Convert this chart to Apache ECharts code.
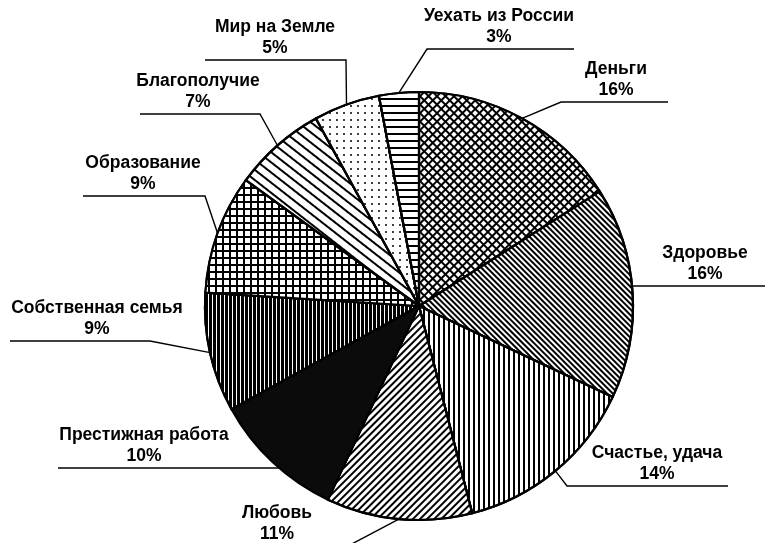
<!DOCTYPE html>
<html>
<head>
<meta charset="utf-8">
<style>
html,body{margin:0;padding:0;background:#fff;}
#chart{width:765px;height:543px;}
</style>
<script src="https://cdn.jsdelivr.net/npm/echarts@6/dist/echarts.min.js"></script>
</head>
<body>
<div id="chart"></div>
<script>
// ---- data ----
const categories = ['Деньги', 'Здоровье', 'Счастье, удача', 'Любовь', 'Престижная работа',
  'Собственная семья', 'Образование', 'Благополучие', 'Мир на Земле', 'Уехать из России'];
const values = [16, 16, 14, 11, 10, 9, 9, 7, 5, 3];

// ---- layout (label placement, not data) ----
const CX = 419, CY = 306, R = 214;
const labelPos = [
  { x: 616, lineY: 102, bend: [561, 102], end: 668 },
  { x: 705, lineY: 286, bend: null, end: 765 },
  { x: 657, lineY: 486, bend: [567, 486], end: 728 },
  { x: 277, lineY: 546, bend: [348, 546], end: 200 },
  { x: 144, lineY: 468, bend: null, end: 58 },
  { x: 97, lineY: 341, bend: [150, 341], end: 10 },
  { x: 143, lineY: 196, bend: [205, 196], end: 83 },
  { x: 198, lineY: 114, bend: [260, 114], end: 140 },
  { x: 275, lineY: 60, bend: [346, 60], end: 205 },
  { x: 499, lineY: 49, bend: [427, 49], end: 574 }
];

// ---- patterns ----
const deg = d => d * Math.PI / 180;
function stripes(black, gap, angle) {
  return { symbol: 'rect', symbolSize: 1, symbolKeepAspect: false, color: '#000',
    dashArrayX: [[1, 0]], dashArrayY: [black, gap], rotation: deg(angle) };
}
const decals = [
  { symbol: 'rect', symbolSize: 1, symbolKeepAspect: false, color: '#fff', backgroundColor: '#000',
    dashArrayX: [4, 2], dashArrayY: [4, 2], rotation: deg(45) },
  stripes(1.8, 1.4, 45),
  stripes(2, 3, 90),
  stripes(2, 3, 135),
  null,
  stripes(3, 1, 90),
  { symbol: 'rect', symbolSize: 1, symbolKeepAspect: false, color: '#fff', backgroundColor: '#000',
    dashArrayX: [5, 2], dashArrayY: [5, 2], rotation: 0 },
  stripes(2, 6, 38),
  { symbol: 'circle', symbolSize: 1, symbolKeepAspect: true, color: '#000',
    dashArrayX: [1.6, 4.4], dashArrayY: [1.6, 4.4], rotation: 0 },
  stripes(2, 5, 0)
];
const fills = ['#fff', '#fff', '#fff', '#fff', '#0b0b0b', '#fff', '#fff', '#fff', '#fff', '#fff'];

const total = values.reduce((a, b) => a + b, 0);
function edgePoint(i) {
  let cum = 0;
  for (let k = 0; k < i; k++) cum += values[k];
  const frac = (cum + values[i] / 2) / total;
  const a = deg(90 - 360 * frac);
  return [CX + R * Math.cos(a), CY - R * Math.sin(a)];
}

const data = categories.map((name, i) => {
  const item = { name: name, value: values[i], itemStyle: { color: fills[i] } };
  if (decals[i]) item.itemStyle.decal = decals[i];
  return item;
});

const chart = echarts.init(document.getElementById('chart'), null, { renderer: 'canvas' });
chart.setOption({
  backgroundColor: '#fff',
  animation: false,
  series: [{
    type: 'pie',
    center: [CX, CY],
    radius: [0, R],
    startAngle: 90,
    clockwise: true,
    avoidLabelOverlap: false,
    silent: true,
    data: data,
    itemStyle: { borderColor: '#000', borderWidth: 2.2 },
    label: {
      show: true,
      position: 'outside',
      formatter: '{b}\n{c}%',
      fontFamily: 'Liberation Sans, Arial, sans-serif',
      fontSize: 17.5,
      fontWeight: 'bold',
      lineHeight: 21,
      color: '#000'
    },
    labelLine: { show: true, lineStyle: { color: '#000', width: 1.4 } },
    labelLayout: function (params) {
      const i = params.dataIndex;
      const p = labelPos[i];
      let pts;
      if (p.bend) {
        pts = [edgePoint(i), p.bend, [p.end, p.lineY]];
      } else {
        const dy = p.lineY - CY;
        const dx = Math.sqrt(Math.max(0, R * R - dy * dy));
        const ex = p.end > CX ? CX + dx : CX - dx;
        pts = [[ex, p.lineY], [p.end, p.lineY]];
      }
      return { x: p.x, y: p.lineY - 1, align: 'center', verticalAlign: 'bottom', labelLinePoints: pts };
    }
  }]
});
</script>
</body>
</html>
